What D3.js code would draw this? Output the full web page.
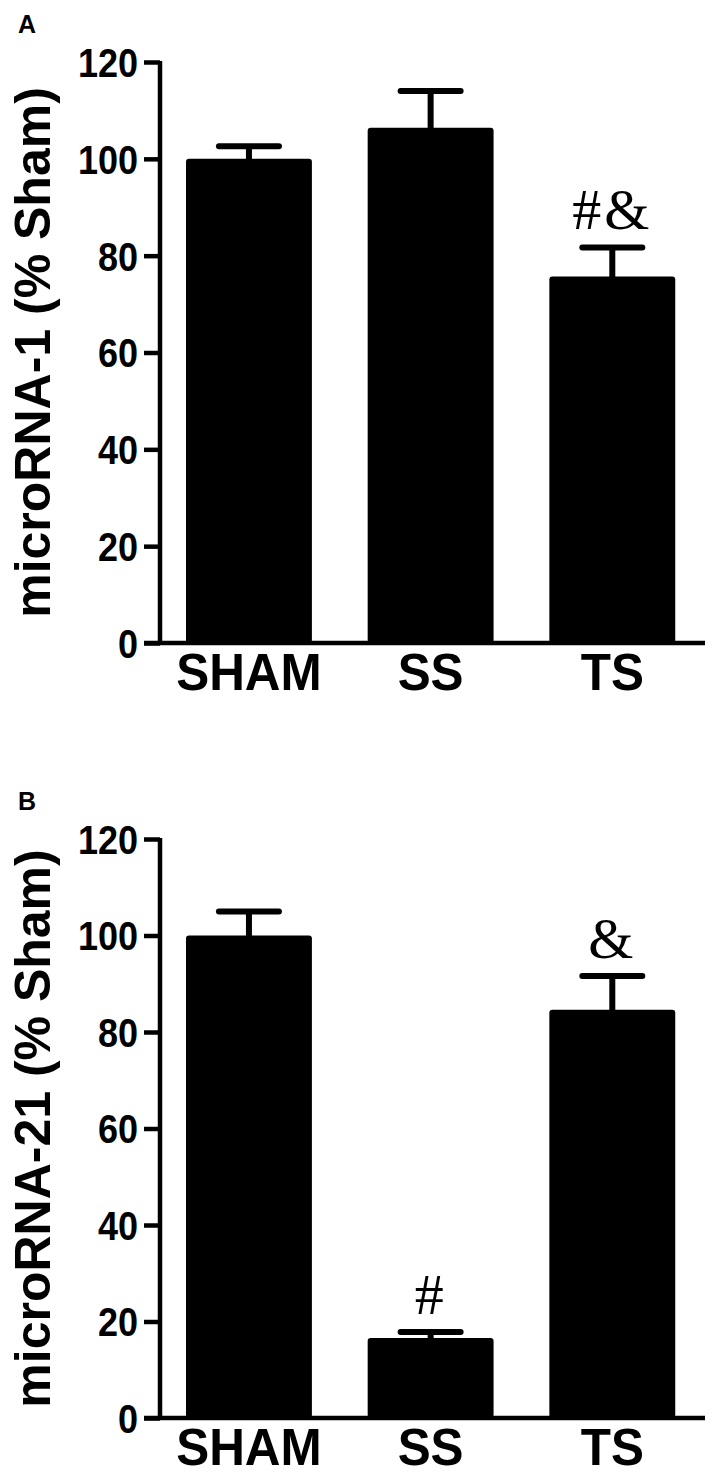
<!DOCTYPE html>
<html>
<head>
<meta charset="utf-8">
<script src="https://cdn.jsdelivr.net/npm/d3@7"></script>
<style>
  html, body { margin: 0; padding: 0; background: #fff; }
  svg { display: block; }
</style>
</head>
<body>
<svg id="chart" width="709" height="1475"></svg>
<script>
// ---- data ----
const categories = ["SHAM", "SS", "TS"];
const yTicks = [0, 20, 40, 60, 80, 100, 120];

const mir1Mean = [100, 106.4, 75.7];
const mir1Sem  = [2.6, 7.6, 6.0];
const mir1Marks = ["", "", "#&"];

const mir21Mean = [100, 16.6, 84.6];
const mir21Sem  = [5.0, 1.2, 7.0];
const mir21Marks = ["", "#", "&"];

const panels = [
  { letter: "A", title: "microRNA-1 (% Sham)", mean: mir1Mean, sem: mir1Sem, marks: mir1Marks, top: 62, bottom: 643 },
  { letter: "B", title: "microRNA-21 (% Sham)", mean: mir21Mean, sem: mir21Sem, marks: mir21Marks, top: 839, bottom: 1418 }
];

const svg = d3.select("#chart");
const axisX = 160;
const sans = "'Liberation Sans', Arial, Helvetica, sans-serif";
const serif = "'Liberation Serif', 'Times New Roman', serif";

const x = d3.scaleBand()
  .domain(categories)
  .range([186, 675.25])
  .paddingInner(0.307)
  .paddingOuter(0);

function squeeze(sel, ratio) {
  sel.each(function () {
    const len = this.getComputedTextLength();
    d3.select(this).attr("textLength", len * ratio).attr("lengthAdjust", "spacingAndGlyphs");
  });
}

panels.forEach(p => {
  const y = d3.scaleLinear().domain([0, 120]).range([p.bottom, p.top]);
  const g = svg.append("g");

  // panel letter
  g.append("text")
    .attr("x", 18).attr("y", p.top - 29)
    .attr("font-family", sans).attr("font-weight", "bold").attr("font-size", 25)
    .text(p.letter);

  // bars
  g.selectAll("rect.bar").data(categories).join("rect")
    .attr("class", "bar")
    .attr("x", d => x(d))
    .attr("width", x.bandwidth())
    .attr("y", (d, i) => y(p.mean[i]))
    .attr("height", (d, i) => y(0) - y(p.mean[i]))
    .attr("rx", 3)
    .attr("fill", "#000");

  // error bars (upper only)
  const capHalf = 30;
  g.selectAll("line.stem").data(categories).join("line")
    .attr("class", "stem")
    .attr("x1", d => x(d) + x.bandwidth() / 2)
    .attr("x2", d => x(d) + x.bandwidth() / 2)
    .attr("y1", (d, i) => y(p.mean[i]) + 2)
    .attr("y2", (d, i) => y(p.mean[i] + p.sem[i]))
    .attr("stroke", "#000").attr("stroke-width", 6);
  g.selectAll("line.cap").data(categories).join("line")
    .attr("class", "cap")
    .attr("x1", d => x(d) + x.bandwidth() / 2 - capHalf)
    .attr("x2", d => x(d) + x.bandwidth() / 2 + capHalf)
    .attr("y1", (d, i) => y(p.mean[i] + p.sem[i]))
    .attr("y2", (d, i) => y(p.mean[i] + p.sem[i]))
    .attr("stroke", "#000").attr("stroke-width", 6).attr("stroke-linecap", "round");

  // significance marks
  g.selectAll("text.mark").data(categories).join("text")
    .attr("class", "mark")
    .attr("x", d => x(d) + x.bandwidth() / 2)
    .attr("y", (d, i) => y(p.mean[i] + p.sem[i]) - 18)
    .attr("text-anchor", "middle")
    .attr("font-family", serif).attr("font-size", 58)
    .attr("letter-spacing", 3)
    .text((d, i) => p.marks[i]);

  // y axis
  const yAxis = d3.axisLeft(y).tickValues(yTicks).tickSize(16).tickSizeOuter(0).tickPadding(6);
  const ay = g.append("g").attr("transform", `translate(${axisX},0)`).call(yAxis);
  ay.select(".domain").attr("stroke", "#000").attr("stroke-width", 4.5)
    .attr("d", `M0,${p.top - 1}V${p.bottom}`);
  ay.selectAll(".tick line").attr("stroke", "#000").attr("stroke-width", 4.5);
  ay.selectAll(".tick text")
    .attr("font-family", sans).attr("font-weight", "bold").attr("font-size", 40)
    .attr("fill", "#000").attr("dy", "0.36em")
    .call(squeeze, 0.9);

  // x baseline
  g.append("line")
    .attr("x1", axisX - 16).attr("x2", 705)
    .attr("y1", y(0)).attr("y2", y(0))
    .attr("stroke", "#000").attr("stroke-width", 4.5);

  // category labels
  g.selectAll("text.cat").data(categories).join("text")
    .attr("class", "cat")
    .attr("x", d => x(d) + x.bandwidth() / 2)
    .attr("y", y(0) + 47)
    .attr("text-anchor", "middle")
    .attr("font-family", sans).attr("font-weight", "bold").attr("font-size", 52)
    .text(d => d)
    .call(squeeze, 0.95);

  // y title
  g.append("text")
    .attr("transform", `translate(50,${(p.top + p.bottom) / 2}) rotate(-90)`)
    .attr("text-anchor", "middle")
    .attr("font-family", sans).attr("font-weight", "bold").attr("font-size", 50)
    .text(p.title);
});
</script>
</body>
</html>
